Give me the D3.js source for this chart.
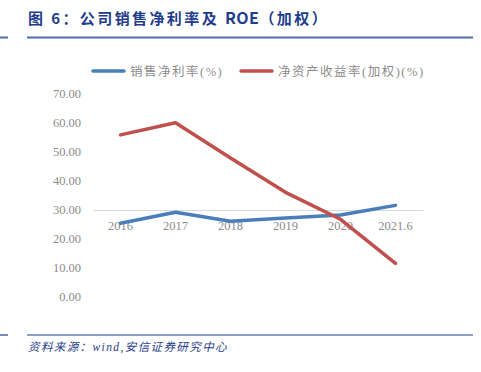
<!DOCTYPE html>
<html>
<head>
<meta charset="utf-8">
<script src="https://cdn.jsdelivr.net/npm/d3@7"></script>
<style>
  body { margin: 0; background: #fff; }
  svg { display: block; }
</style>
</head>
<body>
<svg id="chart" width="481" height="372"></svg>
<script>
'use strict';

var categories = ['2016', '2017', '2018', '2019', '2020', '2021.6'];
var netMargin = [25.4, 29.2, 26.1, 27.2, 28.3, 31.6];
var roe = [55.9, 60.1, 47.9, 36.1, 26.8, 11.6];
var yTicks = [0, 10, 20, 30, 40, 50, 60, 70];
var seriesNames = ['销售净利率(%)', '净资产收益率(加权)(%)'];

var svg = d3.select('#chart');

var x = d3.scaleBand()
    .domain(categories)
    .range([93, 423]);

var y = d3.scaleLinear()
    .domain([0, 70])
    .range([297, 94]);

// title and rules
var title = svg.append('text')
    .attr('x', 28)
    .attr('y', 24)
    .style('font', 'bold 15px "Noto Sans CJK SC", sans-serif')
    .style('fill', '#1f3d8c');
title.append('tspan').style('letter-spacing', '2.4px').text('图 6：公司销售净利率及 ');
title.append('tspan').style('font-size', '16px').style('letter-spacing', '0.5px').text('ROE');
title.append('tspan').style('letter-spacing', '2.4px').text('（加权）');

svg.append('line').attr('x1', 27).attr('x2', 473).attr('y1', 37.5).attr('y2', 37.5)
    .style('stroke', '#4a6db3').style('stroke-width', 2);
svg.append('line').attr('x1', 0).attr('x2', 8).attr('y1', 37.5).attr('y2', 37.5)
    .style('stroke', '#4a6db3').style('stroke-width', 2);

svg.append('line').attr('x1', 27).attr('x2', 473).attr('y1', 335).attr('y2', 335)
    .style('stroke', '#1f3d8c').style('stroke-width', 1.2);
svg.append('line').attr('x1', 0).attr('x2', 8).attr('y1', 335).attr('y2', 335)
    .style('stroke', '#1f3d8c').style('stroke-width', 1.2);

svg.append('text')
    .attr('x', 28)
    .attr('y', 351)
    .text('资料来源：wind,安信证券研究中心')
    .style('font', 'italic 11.5px "Liberation Serif", "Noto Sans CJK SC", serif')
    .style('letter-spacing', '1.4px')
    .style('fill', '#1f3d8c');

// y axis labels
svg.selectAll('.ylab')
    .data(yTicks)
    .enter().append('text')
    .attr('class', 'ylab')
    .attr('x', 81)
    .attr('y', function (d) {return y(d) + 4;})
    .attr('text-anchor', 'end')
    .text(function (d) {return d.toFixed(2);})
    .style('font', '12.5px "Liberation Serif", serif')
    .style('fill', '#8c8c8c');

// x axis at 30
var xAxis = svg.append('g')
    .attr('transform', 'translate(0,' + y(30) + ')')
    .call(d3.axisBottom(x).tickSize(0).tickPadding(11));
xAxis.select('.domain').style('stroke', '#d9d9d9').style('stroke-width', 1);
xAxis.selectAll('text')
    .style('font', '12.5px "Liberation Serif", serif')
    .style('fill', '#8c8c8c');

var line = d3.line()
    .x(function (d, i) {return x(categories[i]) + x.bandwidth() / 2;})
    .y(function (d) {return y(d);});

var colors = ['#4a7ebb', '#c0504d'];

svg.append('path')
    .datum(netMargin)
    .attr('d', line)
    .style('fill', 'none')
    .style('stroke', colors[0])
    .style('stroke-width', 3.5)
    .style('stroke-linecap', 'round')
    .style('stroke-linejoin', 'round');

svg.append('path')
    .datum(roe)
    .attr('d', line)
    .style('fill', 'none')
    .style('stroke', colors[1])
    .style('stroke-width', 3.5)
    .style('stroke-linecap', 'round')
    .style('stroke-linejoin', 'round');

// legend
var legendX = [92, 240];
var legend = svg.selectAll('.leg')
    .data(seriesNames)
    .enter().append('g')
    .attr('class', 'leg')
    .attr('transform', function (d, i) {return 'translate(' + legendX[i] + ',71)';});

legend.append('line')
    .attr('x1', 1).attr('x2', 32)
    .style('stroke', function (d, i) {return colors[i];})
    .style('stroke-width', 3.5)
    .style('stroke-linecap', 'round');

legend.append('text')
    .attr('x', 38)
    .attr('y', 5)
    .text(function (d) {return d;})
    .style('font', '12.5px "Liberation Serif", "Noto Sans CJK SC", serif')
    .style('letter-spacing', '1.5px')
    .style('fill', '#8c8c8c');
</script>
</body>
</html>
